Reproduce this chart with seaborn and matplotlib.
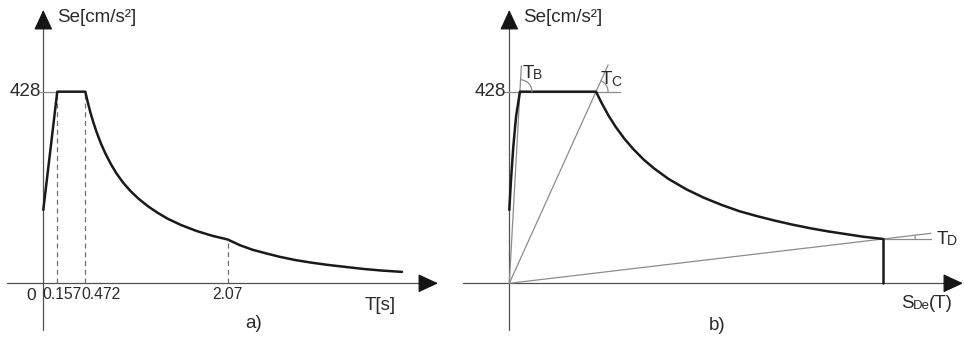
import numpy as np
import pandas as pd
import matplotlib
matplotlib.use("Agg")
import matplotlib.pyplot as plt
import seaborn as sns

# ---------------- data ----------------
# Panel a) elastic response spectrum Se(T)
T_a = [0.0, 0.157, 0.472, 0.50, 0.53, 0.56, 0.60, 0.65, 0.70, 0.76, 0.82, 0.90,
       0.98, 1.07, 1.17, 1.28, 1.40, 1.55, 1.72, 1.90, 2.07, 2.21, 2.35, 2.50,
       2.66, 2.83, 3.00, 3.20, 3.40, 3.60, 3.80, 4.03]
Se_a = [164, 428, 428, 404, 381, 361, 337, 311, 289, 266, 246, 224,
        206, 189, 173, 158, 144, 130, 117, 106, 98, 85, 75, 67,
        59, 52, 46.5, 41, 36.5, 32, 28.5, 25.5]
tick_T = [0.157, 0.472, 2.07]
tick_T_labels = ["0.157", "0.472", "2.07"]
tick_T_Se = [428, 428, 98]
se_peak = 428

# Panel b) ADRS format Se vs SDe
Sd_b = [0.0, 0.048, 0.113, 0.19, 0.30, 2.45, 2.60, 2.80, 3.00, 3.25, 3.50, 3.80,
        4.10, 4.50, 5.00, 5.50, 6.00, 6.50, 7.00, 7.50, 8.00, 8.50, 9.00, 9.50,
        10.00, 10.56]
Se_b = [164, 231, 305, 372, 428, 428, 404, 375, 350, 323, 300, 276,
        256, 233, 210, 191, 175, 161, 150, 140, 131, 123, 116, 110,
        104, 99]
corner_names = ["B", "C", "D"]
corner_Sd = [0.30, 2.45, 10.56]
corner_Se = [428, 428, 99]

# ---------------- style ----------------
sns.set_style("white")
plt.rcParams["font.family"] = ["Liberation Sans", "DejaVu Sans"]

W, H = 964, 340
fig = plt.figure(figsize=(W / 100, H / 100), dpi=100)

TXT = "#2a2a2a"
AX = "#505050"
HEAD = "#151515"
THIN = "#8c8c8c"
CURVE = "#1a1a1a"
FS = 13.5

# pixel mapping (layout only)
Y0, YS = 283.3, 0.4477          # y pixel of Se=0, px per cm/s2
XA0, XAS = 43.3, 89.0           # panel a origin px, px per second
XB0, XBS = 509.3, 35.4          # panel b origin px, px per cm


def add_axes(px_left, px_right, x0, xs):
    top, bottom = 5, 335
    ax = fig.add_axes([px_left / W, (H - bottom) / H,
                       (px_right - px_left) / W, (bottom - top) / H])
    ax.set_xlim((px_left - x0) / xs, (px_right - x0) / xs)
    ax.set_ylim((Y0 - bottom) / YS, (Y0 - top) / YS)
    ax.set_axis_off()
    return ax


axa = add_axes(5, 440, XA0, XAS)
axb = add_axes(445, 964, XB0, XBS)


def arrow(ax, start, end):
    ax.annotate("", xy=end, xytext=start,
                arrowprops=dict(arrowstyle="-|>,head_length=1.25,head_width=0.58",
                                mutation_scale=10, color=HEAD, lw=0.9,
                                shrinkA=0, shrinkB=0))


def pa(x, y):
    return ((x - XA0) / XAS, (Y0 - y) / YS)


def pb(x, y):
    return ((x - XB0) / XBS, (Y0 - y) / YS)


# ---------------- panel a ----------------
ya_lo, ya_hi = (Y0 - 330) / YS, (Y0 - 10) / YS
axa.plot([0, 0], [ya_lo, (Y0 - 25) / YS], color=AX, lw=0.9)
arrow(axa, (0, (Y0 - 27) / YS), (0, ya_hi))
axa.plot([pa(7, 0)[0], pa(421, 0)[0]], [0, 0], color=AX, lw=0.9)
arrow(axa, (pa(420, 0)[0], 0), (pa(438, 0)[0], 0))

axa.vlines(tick_T, 0, tick_T_Se, colors="#707070", lw=0.9, linestyles=(0, (4, 3)))
axa.plot([pa(40, 0)[0], tick_T[0]], [se_peak, se_peak], color=THIN, lw=0.9)

dfa = pd.DataFrame({"T": T_a, "Se": Se_a})
sns.lineplot(data=dfa, x="T", y="Se", ax=axa, color=CURVE, lw=1.8,
             sort=False, estimator=None)

axa.text(pa(57, 0)[0], pa(0, 17)[1], "Se[cm/s²]", fontsize=FS, color=TXT,
         ha="left", va="center")
axa.text(pa(41, 0)[0], se_peak, str(se_peak), fontsize=FS, color=TXT,
         ha="right", va="center")
axa.text(pa(31, 0)[0], pa(0, 296)[1], "0", fontsize=12.5, color=TXT,
         ha="center", va="center")
label_offsets = [5, 16, 0]
for t, lab, off in zip(tick_T, tick_T_labels, label_offsets):
    axa.annotate(lab, xy=(t, 0), xytext=(off, -11), textcoords="offset pixels",
                 fontsize=11.3, color=TXT, ha="center", va="center")
axa.text(pa(380, 0)[0], pa(0, 305)[1], "T[s]", fontsize=FS, color=TXT,
         ha="center", va="center")
axa.text(pa(254, 0)[0], pa(0, 324)[1], "a)", fontsize=FS, color=TXT,
         ha="center", va="center")

# ---------------- panel b ----------------
axb.plot([0, 0], [ya_lo, (Y0 - 25) / YS], color=AX, lw=0.9)
arrow(axb, (0, (Y0 - 27) / YS), (0, ya_hi))
axb.plot([pb(463, 0)[0], pb(945, 0)[0]], [0, 0], color=AX, lw=0.9)
arrow(axb, (pb(944, 0)[0], 0), (pb(963, 0)[0], 0))

# radial period lines from origin
ext = [1.135, 1.14, 1.128]
for sd, se, f in zip(corner_Sd, corner_Se, ext):
    axb.plot([0, sd * f], [0, se * f], color=THIN, lw=0.9)
# horizontal reference lines
axb.plot([pb(503, 0)[0], pb(620, 0)[0]], [se_peak, se_peak], color=THIN, lw=0.9)
axb.plot([corner_Sd[2], corner_Sd[2] * ext[2]], [corner_Se[2], corner_Se[2]],
         color=THIN, lw=0.9)

dfb = pd.DataFrame({"Sd": Sd_b, "Se": Se_b})
sns.lineplot(data=dfb, x="Sd", y="Se", ax=axb, color=CURVE, lw=1.8,
             sort=False, estimator=None)
axb.plot([corner_Sd[2], corner_Sd[2]], [0, corner_Se[2]], color=CURVE, lw=1.8)

# angle arcs (drawn in display space so they stay circular)
fig.canvas.draw()


def arc(ax, sd, se, r_px):
    tr = ax.transData
    o = tr.transform((0, 0))
    p = tr.transform((sd, se))
    ang = np.arctan2(p[1] - o[1], p[0] - o[0])
    th = np.linspace(0, ang, 30)
    pts = np.column_stack([p[0] + r_px * np.cos(th), p[1] + r_px * np.sin(th)])
    d = tr.inverted().transform(pts)
    ax.plot(d[:, 0], d[:, 1], color=THIN, lw=0.9)


for sd, se, r in zip(corner_Sd, corner_Se, [12, 12, 32]):
    arc(axb, sd, se, r)

axb.text(pb(523, 0)[0], pb(0, 17)[1], "Se[cm/s²]", fontsize=FS, color=TXT,
         ha="left", va="center")
axb.text(pb(506, 0)[0], se_peak, str(se_peak), fontsize=FS, color=TXT,
         ha="right", va="center")

name_pos = [(523, 73), (601, 80), (937, 239)]
for name, (x, y) in zip(corner_names, name_pos):
    axb.text(*pb(x, y), "T", fontsize=FS, color=TXT, ha="left", va="center")
    axb.annotate(name, xy=pb(x, y), xytext=(10, -2), textcoords="offset pixels",
                 fontsize=10, color=TXT, ha="left", va="center")

sx, sy = pb(901, 304)
axb.text(sx, sy, "S", fontsize=FS, color=TXT, ha="left", va="center")
axb.annotate("De", xy=(sx, sy), xytext=(12, -2), textcoords="offset pixels",
             fontsize=9.5, color=TXT, ha="left", va="center")
axb.annotate("(T)", xy=(sx, sy), xytext=(28, 0), textcoords="offset pixels",
             fontsize=FS, color=TXT, ha="left", va="center")
axb.text(pb(717, 0)[0], pb(0, 325)[1], "b)", fontsize=FS, color=TXT,
         ha="center", va="center")

fig.savefig("out.png", dpi=100)
